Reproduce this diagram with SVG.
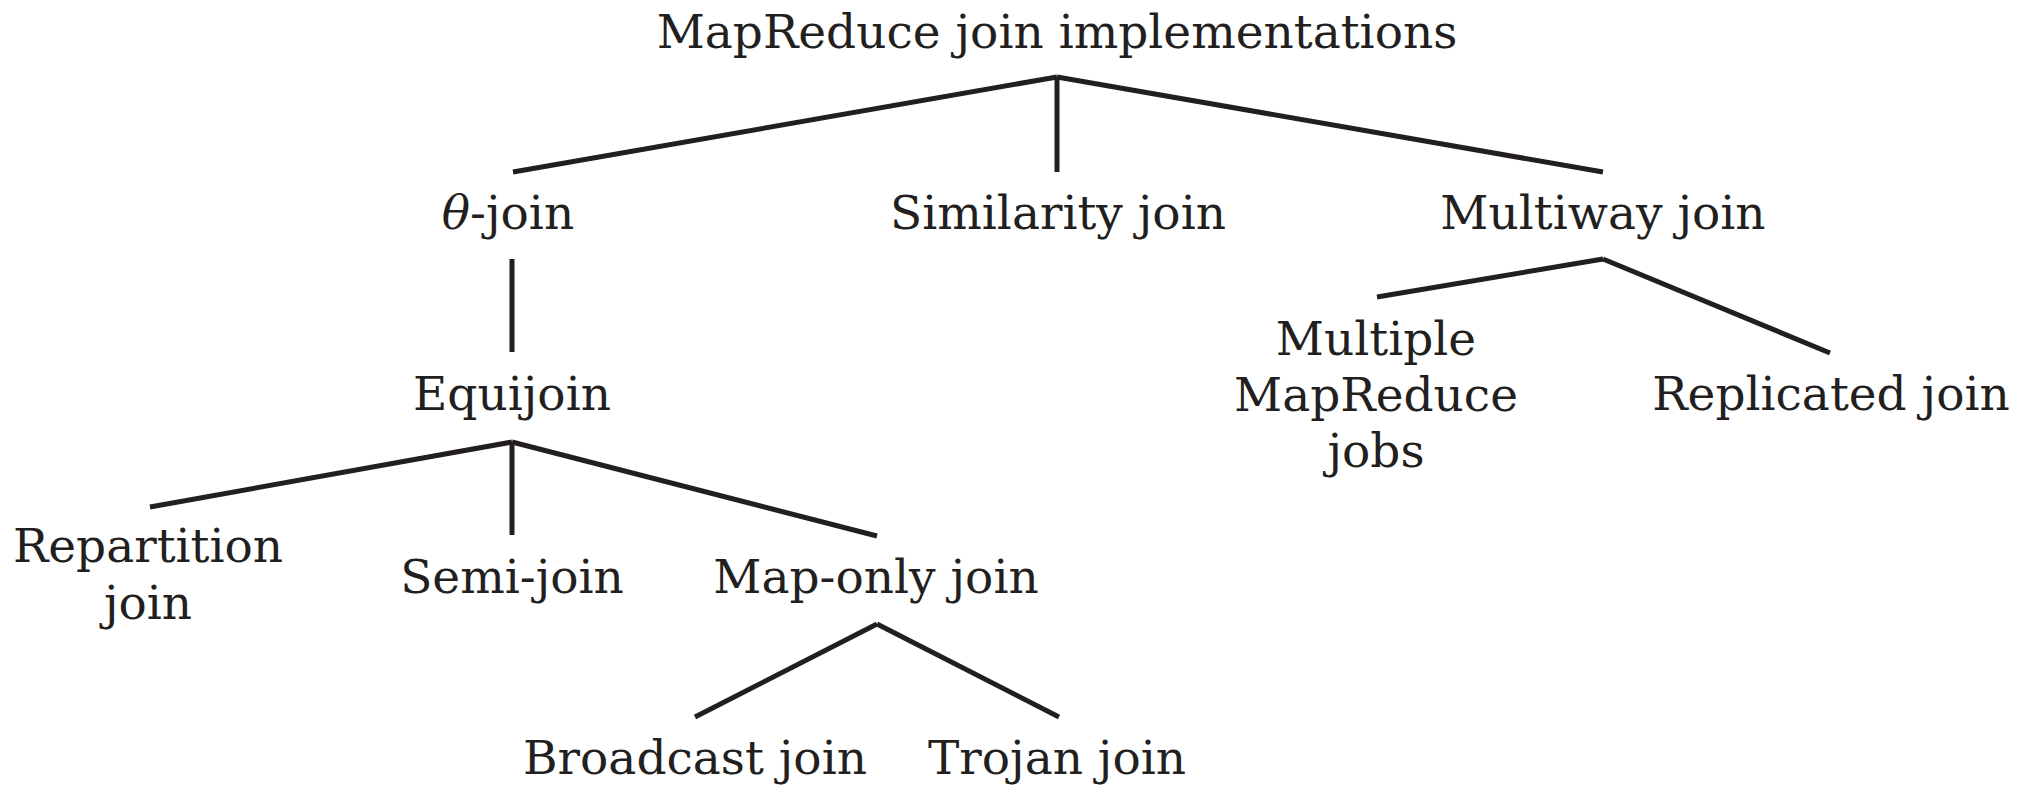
<svg xmlns="http://www.w3.org/2000/svg" width="2022" height="785" viewBox="0 0 2022 785">
<style>
text{font-family:"DejaVu Serif","Liberation Serif",serif;font-size:47px;fill:#231f20;text-anchor:middle}
.c line{stroke:#231f20;stroke-width:5;stroke-linecap:butt}
</style>
<rect width="2022" height="785" fill="#fff"/>
<g class="c" id="connectors">
<line x1="1057" y1="77" x2="513" y2="172"/>
<line x1="1057" y1="77" x2="1057" y2="172"/>
<line x1="1057" y1="77" x2="1603" y2="172"/>
<line x1="512" y1="259" x2="512" y2="352"/>
<line x1="1603" y1="259" x2="1377" y2="297"/>
<line x1="1603" y1="259" x2="1830" y2="353"/>
<line x1="512" y1="442" x2="150" y2="507"/>
<line x1="512" y1="442" x2="512" y2="535"/>
<line x1="512" y1="442" x2="877" y2="536"/>
<line x1="877" y1="624" x2="695" y2="717"/>
<line x1="877" y1="624" x2="1059" y2="717"/>
</g>
<g id="root"><text x="1057" y="48">MapReduce join implementations</text></g>
<g id="theta"><text x="508" y="229"><tspan font-style="italic">θ</tspan>-join</text></g>
<g id="similarity"><text x="1058" y="229">Similarity join</text></g>
<g id="multiway"><text x="1603" y="229">Multiway join</text></g>
<g id="equijoin"><text x="512" y="410">Equijoin</text></g>
<g id="multiple"><text x="1376" y="355">Multiple</text><text x="1376" y="411">MapReduce</text><text x="1376" y="467">jobs</text></g>
<g id="replicated"><text x="1831" y="410">Replicated join</text></g>
<g id="repartition"><text x="148" y="562">Repartition</text><text x="148" y="619">join</text></g>
<g id="semi"><text x="512" y="593">Semi-join</text></g>
<g id="maponly"><text x="876" y="593">Map-only join</text></g>
<g id="broadcast"><text x="695" y="774">Broadcast join</text></g>
<g id="trojan"><text x="1057" y="774">Trojan join</text></g>
</svg>
